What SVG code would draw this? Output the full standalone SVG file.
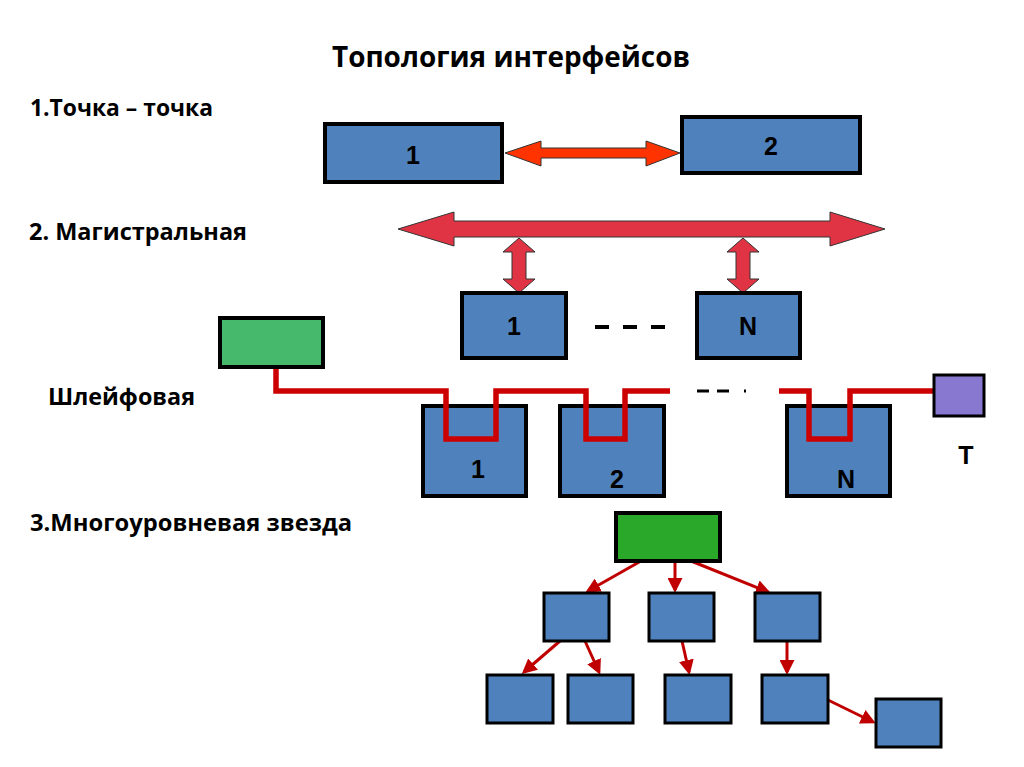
<svg xmlns="http://www.w3.org/2000/svg" width="1024" height="767" viewBox="0 0 1024 767">
<defs>
<style>
.t{font-family:"Open Sans","Liberation Sans",Arial,sans-serif;font-weight:bold;fill:#000}
.h{font-size:28px}
.s{font-size:23px}
.n{font-family:"Liberation Sans",Arial,sans-serif;font-weight:bold;fill:#000;font-size:25px}
.b{fill:#4F81BD;stroke:#000;stroke-width:4}
.bs{fill:#4F81BD;stroke:#000;stroke-width:3}
.bus{fill:#E03444;stroke:#333;stroke-width:1}
.wire{fill:none;stroke:#CC0000;stroke-width:5.5}
.st{stroke:#C00000;stroke-width:3;fill:none;marker-end:url(#ah)}
</style>
<marker id="ah" markerWidth="5" markerHeight="5" refX="4" refY="2.5" orient="auto" markerUnits="strokeWidth">
<path d="M0,0 L5,2.5 L0,5 z" fill="#C00000"/>
</marker>
</defs>
<rect width="1024" height="767" fill="#fff"/>
<g id="labels">
<text class="t h" x="332" y="67" textLength="358" lengthAdjust="spacingAndGlyphs">Топология интерфейсов</text>
<text class="t s" x="30" y="116" textLength="183" lengthAdjust="spacingAndGlyphs">1.Точка – точка</text>
<text class="t s" x="29" y="240" textLength="218" lengthAdjust="spacingAndGlyphs">2. Магистральная</text>
<text class="t s" x="48" y="405" textLength="147" lengthAdjust="spacingAndGlyphs">Шлейфовая</text>
<text class="t s" x="30" y="531" textLength="322" lengthAdjust="spacingAndGlyphs">3.Многоуровневая звезда</text>
</g>
<g id="connectors">
<path d="M505,153 L541,141 L541,148 L646,148 L646,141 L680,153 L646,166 L646,158 L541,158 L541,166 Z" fill="#FF3300" stroke="#333" stroke-width="1"/>
<path class="bus" d="M398,229 L454,212 L454,221 L830,221 L830,212 L885,229 L830,246 L830,237 L454,237 L454,246 Z"/>
<path class="bus" d="M519,238 L535,252 L526,252 L526,279 L535,279 L519,293 L503,279 L512,279 L512,252 L503,252 Z" fill="#D0384A"/>
<path class="bus" d="M743,238 L759,252 L750,252 L750,279 L759,279 L743,293 L727,279 L736,279 L736,252 L727,252 Z" fill="#D0304A"/>
<line x1="595" y1="327" x2="665" y2="327" stroke="#000" stroke-width="4" stroke-dasharray="14,14"/>
<path class="wire" d="M276,367 V391 H446 V439 H496 V391 H586 V439 H625 V391 H670"/>
<path d="M697,391 H735 M744,391 H746" stroke="#000" stroke-width="3" stroke-dasharray="12,8" fill="none"/>
<path class="wire" d="M779,391 H809 V439 H850 V391 H934"/>
<line class="st" x1="641" y1="561" x2="588" y2="591"/>
<line class="st" x1="675" y1="561" x2="675" y2="590"/>
<line class="st" x1="691" y1="561" x2="768" y2="592"/>
<line class="st" x1="560" y1="641" x2="524" y2="672"/>
<line class="st" x1="585" y1="641" x2="599" y2="672"/>
<line class="st" x1="682" y1="641" x2="689" y2="672"/>
<line class="st" x1="787" y1="641" x2="787" y2="672"/>
<line class="st" x1="828" y1="700" x2="873" y2="722"/>
</g>
<g id="p2p-1"><rect class="b" x="325" y="124" width="177" height="58"/><text class="n" x="413" y="164" text-anchor="middle">1</text></g>
<g id="p2p-2"><rect class="b" x="682" y="117" width="178" height="56"/><text class="n" x="771" y="155" text-anchor="middle">2</text></g>
<g id="bus-1"><rect class="b" x="462" y="293" width="104" height="65"/><text class="n" x="514" y="335" text-anchor="middle">1</text></g>
<g id="bus-n"><rect class="b" x="697" y="293" width="103" height="65"/><text class="n" x="748" y="335" text-anchor="middle">N</text></g>
<g id="chain-green"><rect x="220" y="318" width="103" height="49" fill="#47B96C" stroke="#000" stroke-width="4"/></g>
<g id="chain-1"><rect class="b" x="423" y="406" width="103" height="90"/><text class="n" x="478" y="478" text-anchor="middle">1</text></g>
<g id="chain-2"><rect class="b" x="560" y="406" width="104" height="90"/><text class="n" x="617" y="488" text-anchor="middle">2</text></g>
<g id="chain-n"><rect class="b" x="787" y="406" width="103" height="90"/><text class="n" x="846" y="488" text-anchor="middle">N</text></g>
<g id="chain-t"><rect x="934" y="375" width="50" height="41" fill="#8878D0" stroke="#000" stroke-width="3"/><text class="n" x="966" y="464" text-anchor="middle">T</text></g>
<g id="chain-wire-over">
<path class="wire" d="M446,404 V439 H496 V404 M586,404 V439 H625 V404 M809,404 V439 H850 V404"/>
</g>
<g id="star-root"><rect x="616" y="513" width="104" height="48" fill="#29A829" stroke="#000" stroke-width="4"/></g>
<g id="star-a"><rect class="bs" x="544" y="593" width="65" height="48"/></g>
<g id="star-b"><rect class="bs" x="649" y="593" width="65" height="48"/></g>
<g id="star-c"><rect class="bs" x="755" y="593" width="65" height="48"/></g>
<g id="star-a1"><rect class="bs" x="487" y="675" width="66" height="48"/></g>
<g id="star-a2"><rect class="bs" x="568" y="675" width="65" height="48"/></g>
<g id="star-b1"><rect class="bs" x="665" y="675" width="66" height="48"/></g>
<g id="star-c1"><rect class="bs" x="762" y="675" width="66" height="48"/></g>
<g id="star-c2"><rect class="bs" x="876" y="699" width="65" height="48"/></g>
</svg>
